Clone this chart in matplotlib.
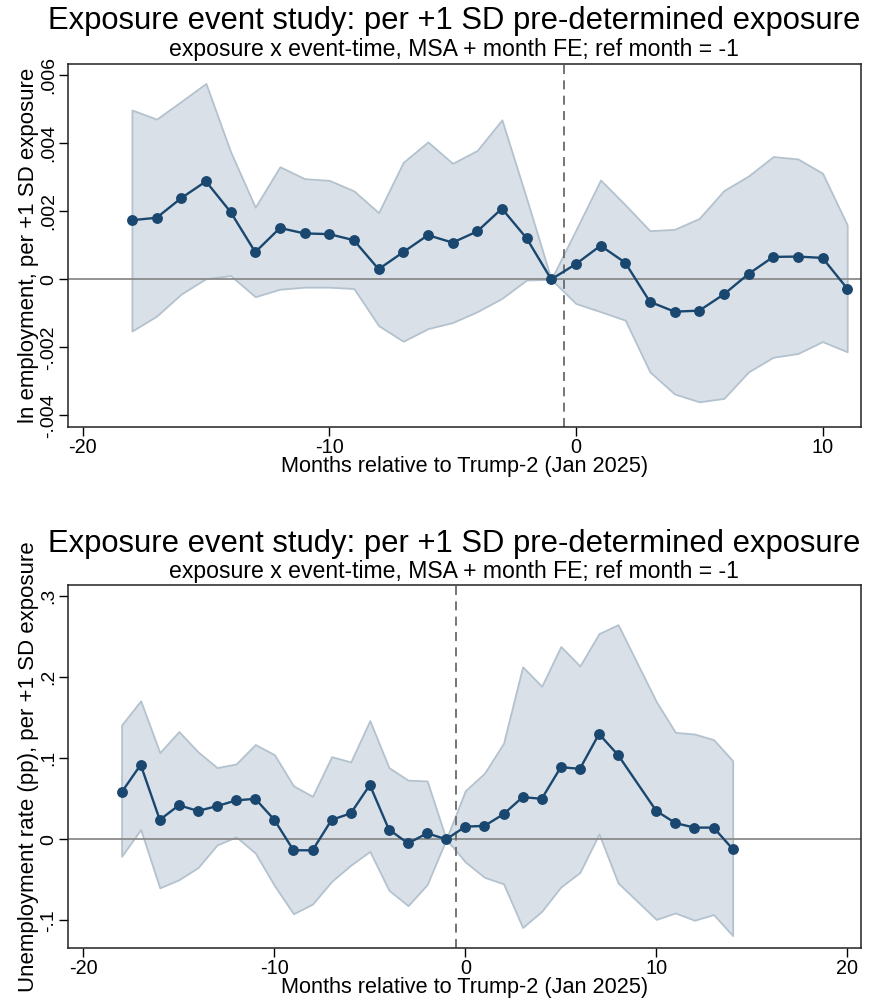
import numpy as np
import matplotlib
matplotlib.use("Agg")
import matplotlib.pyplot as plt

plt.rcParams["font.family"] = ["Liberation Sans", "DejaVu Sans"]

NAVY = "#1a476f"
FILL = "#d9e0e7"
EDGE = "#b3c2ce"

TITLE = "Exposure event study: per +1 SD pre-determined exposure"
SUBTITLE = "exposure x event-time, MSA + month FE; ref month = -1"
XLABEL = "Months relative to Trump-2 (Jan 2025)"

# ln employment panel
emp_t = list(range(-18, 12))
emp_b = [0.00174, 0.00181, 0.00239, 0.00288, 0.00198, 0.00080, 0.00151,
         0.00135, 0.00133, 0.00115, 0.00030, 0.00080, 0.00130, 0.00108,
         0.00141, 0.00208, 0.00121, 0.0, 0.00045, 0.00099, 0.00049,
         -0.00066, -0.00095, -0.00092, -0.00044, 0.00016, 0.00066,
         0.00067, 0.00063, -0.00027]
emp_hi = [0.00498, 0.00471, 0.00523, 0.00576, 0.00375, 0.00212, 0.00331,
          0.00296, 0.00291, 0.00260, 0.00196, 0.00344, 0.00404, 0.00341,
          0.00379, 0.00469, 0.00238, 0.0, 0.00145, 0.00292, 0.00219,
          0.00143, 0.00147, 0.00179, 0.00261, 0.00304, 0.00361, 0.00354,
          0.00312, 0.00160]
emp_lo = [-0.00152, -0.00108, -0.00043, 0.00002, 0.00011, -0.00051,
          -0.00029, -0.00023, -0.00023, -0.00027, -0.00136, -0.00182,
          -0.00145, -0.00127, -0.00095, -0.00056, -0.00002, 0.0, -0.00071,
          -0.00095, -0.00120, -0.00272, -0.00337, -0.00360, -0.00350,
          -0.00272, -0.00229, -0.00218, -0.00183, -0.00213]
emp_yticks = [-0.004, -0.002, 0, 0.002, 0.004, 0.006]
emp_ylabels = ["-.004", "-.002", "0", ".002", ".004", ".006"]

# unemployment rate panel (no estimate for month 9)
ur_t = list(range(-18, 9)) + list(range(10, 15))
ur_b = [0.058, 0.092, 0.024, 0.042, 0.035, 0.041, 0.048, 0.050, 0.024,
        -0.0136, -0.0136, 0.024, 0.032, 0.067, 0.012, -0.005, 0.0074, 0.0,
        0.0156, 0.0165, 0.031, 0.052, 0.050, 0.089, 0.087, 0.130, 0.104,
        0.035, 0.020, 0.0144, 0.0144, -0.012]
ur_hi = [0.141, 0.171, 0.107, 0.133, 0.108, 0.0885, 0.093, 0.117, 0.1045,
         0.066, 0.053, 0.102, 0.0955, 0.1465, 0.0885, 0.073, 0.072, 0.0,
         0.060, 0.0815, 0.1185, 0.213, 0.189, 0.238, 0.214, 0.254, 0.265,
         0.170, 0.132, 0.130, 0.123, 0.097]
ur_lo = [-0.021, 0.012, -0.060, -0.050, -0.035, -0.007, 0.003, -0.017,
         -0.057, -0.092, -0.080, -0.052, -0.032, -0.015, -0.063, -0.082,
         -0.056, 0.0, -0.028, -0.047, -0.055, -0.109, -0.089, -0.059,
         -0.041, 0.0066, -0.054, -0.099, -0.091, -0.100, -0.093, -0.119]
ur_yticks = [-0.1, 0, 0.1, 0.2, 0.3]
ur_ylabels = ["-.1", "0", ".1", ".2", ".3"]


def event_panel(ax, t, b, lo, hi, yticks, ylabels, ylabel, xticks, xlim, ylim):
    ax.fill_between(t, lo, hi, facecolor=FILL, edgecolor=EDGE, lw=1.3, zorder=1)
    ax.axhline(0, color="#8a8a8a", lw=1.3, zorder=2)
    ax.axvline(-0.5, color="#6a6a6a", lw=1.3, ls=(0, (5, 3.5)), zorder=2)
    ax.plot(t, b, color=NAVY, lw=1.7, marker="o", ms=6.8, zorder=3)
    ax.set_xlim(*xlim)
    ax.set_ylim(*ylim)
    ax.set_xticks(xticks)
    ax.set_xticklabels([str(v) for v in xticks])
    ax.set_yticks(yticks)
    ax.set_yticklabels(ylabels, rotation=90, va="center")
    ax.tick_params(length=6.5, width=1.0, pad=1.2)
    ax.tick_params(axis="x", labelsize=14.3)
    ax.tick_params(axis="y", labelsize=14)
    ax.set_xlabel(XLABEL, fontsize=15.6, labelpad=-0.5)
    ax.set_ylabel(ylabel, fontsize=16, labelpad=1)
    for s in ax.spines.values():
        s.set_linewidth(1.1)
        s.set_color("#222222")


fig = plt.figure(figsize=(8.86, 9.99), dpi=100)
ax1 = fig.add_axes([0.0771, 0.5726, 0.8947, 0.3633])
ax2 = fig.add_axes([0.0771, 0.0508, 0.8947, 0.3636])

event_panel(ax1, emp_t, emp_b, emp_lo, emp_hi, emp_yticks, emp_ylabels,
            "ln employment, per +1 SD exposure", [-20, -10, 0, 10],
            (-20.58, 11.56), (-0.00434, 0.00633))
event_panel(ax2, ur_t, ur_b, ur_lo, ur_hi, ur_yticks, ur_ylabels,
            "Unemployment rate (pp), per +1 SD exposure", [-20, -10, 0, 10, 20],
            (-20.79, 20.72), (-0.1346, 0.314))

# titles and subtitles, centred over the whole graph area
for title_y, sub_y in [(0.971, 0.944), (0.4474, 0.4214)]:
    fig.text(0.5124, title_y, TITLE, ha="center", va="baseline", fontsize=22.3)
    fig.text(0.5124, sub_y, SUBTITLE, ha="center", va="baseline", fontsize=16.6)

fig.savefig("out.png", dpi=100)
